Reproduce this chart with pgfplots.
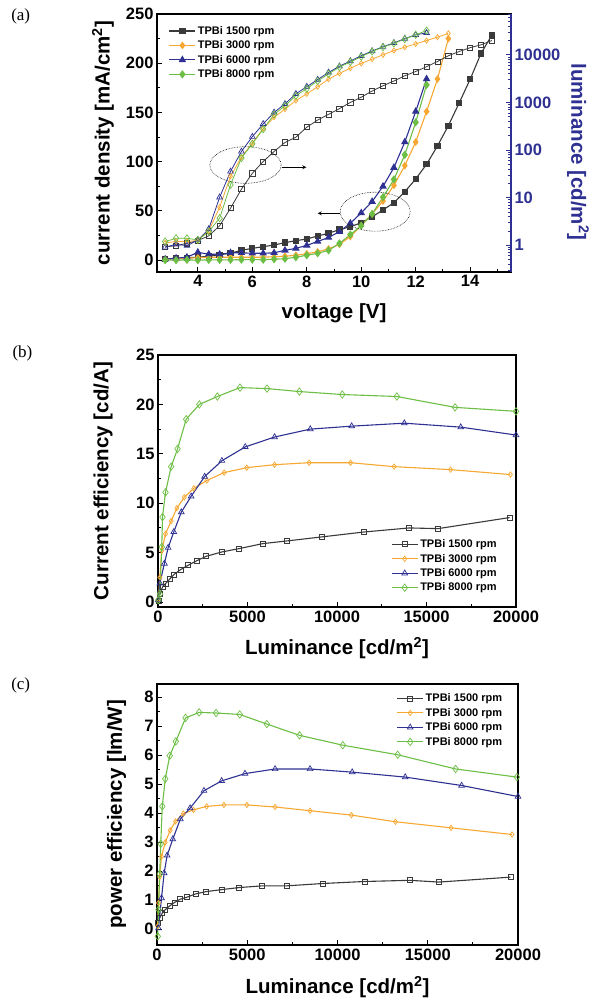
\documentclass[border=0pt]{standalone}
\usepackage{fontspec}
\setmainfont{Liberation Sans}
\newfontfamily\seriffont{Liberation Serif}
\usepackage{pgfplots}
\pgfplotsset{compat=1.18}
\definecolor{cblk}{HTML}{3A3A3A}
\definecolor{corg}{HTML}{F7A833}
\definecolor{cblu}{HTML}{2E3192}
\definecolor{cgrn}{HTML}{6DBE45}
\newcommand{\labfont}{\fontsize{20.5}{20.5}\selectfont\bfseries}
\pgfplotsset{
  common/.style={scale only axis, anchor=south west,
    axis line style={line width=1.3pt},
    tick style={line width=0.9pt, black},
    major tick length=5pt, minor tick length=3pt, tick align=inside,
    ticklabel style={font=\fontsize{16.5}{16.5}\selectfont\bfseries},
    /pgf/number format/assume math mode=true,
    /pgf/number format/1000 sep={},
    scaled ticks=false,
    legend style={draw=none, fill=none, font=\fontsize{11}{11}\selectfont\bfseries,
      row sep=1pt, inner sep=1pt},
    legend cell align=left,
    legend image code/.code={\draw[mark repeat=2,mark phase=2] plot coordinates {(0pt,0pt)(13pt,0pt)(26pt,0pt)};},
    every axis plot/.append style={line width=1.1pt},
    xtick pos=bottom, ytick pos=left,
  },
  xlab/.style={every axis x label/.style={at={(axis description cs:0.5,0)}, yshift=-#1, anchor=center, font=\labfont}},
  ylab/.style={every axis y label/.style={at={(axis description cs:0,0.5)}, xshift=-#1, rotate=90, anchor=center, font=\labfont}},
}
\begin{document}
\begin{tikzpicture}
\path[use as bounding box] (0,0) rectangle (589pt,1002pt);
% ---------------- (a) ----------------
\begin{axis}[common, at={(157pt,730pt)}, width=354pt, height=258pt,
  xmin=2.5, xmax=15.5, ymin=-12, ymax=250,
  xtick={4,6,...,14}, minor xtick={3,5,...,15},
  ytick={0,50,...,250}, minor ytick={25,75,...,225},
  xlab=41pt, ylab=54pt,
  xlabel={voltage [V]}, ylabel={current density [mA/cm\textsuperscript{2}]},
  legend style={at={(0.03,0.965)}, anchor=north west}]
\addplot[cblk, mark=square*, mark size=2.6pt] coordinates {(2.8,1)(3.2,2)(3.6,2.5)(4.0,3)(4.4,4)(4.8,5.5)(5.2,7)(5.6,10)(6.0,12)(6.4,13.7)(6.8,15.4)(7.2,17.8)(7.6,19.8)(8.0,21.5)(8.4,24.6)(8.8,27.3)(9.2,31)(9.6,34)(10.0,38)(10.4,44)(10.8,51)(11.2,58.4)(11.6,69.5)(12.0,82.4)(12.4,97.4)(12.8,116)(13.2,136.6)(13.6,159.9)(14.0,183.7)(14.4,210)(14.8,228.7)};
\addlegendentry{TPBi 1500 rpm}
\addplot[corg, mark=diamond*, mark size=3pt] coordinates {(2.8,1)(3.2,1.5)(3.6,2)(4.0,2.5)(4.4,3)(4.8,3)(5.2,3)(5.6,3)(6.0,3)(6.4,3)(6.8,3.5)(7.2,4)(7.6,5)(8.0,6.5)(8.4,8.5)(8.8,11.5)(9.2,16)(9.6,24)(10.0,35)(10.4,47)(10.8,60)(11.2,76)(11.6,96)(12.0,120)(12.4,151)(12.8,184)(13.2,225)};
\addlegendentry{TPBi 3000 rpm}
\addplot[cblu, mark=triangle*, mark size=3.3pt] coordinates {(2.8,1)(3.2,2)(3.6,3)(4.0,8)(4.4,6)(4.8,6)(5.2,7.5)(5.6,7.5)(6.0,7)(6.4,7)(6.8,7.5)(7.2,10)(7.6,12)(8.0,15)(8.4,19)(8.8,23)(9.2,29)(9.6,37.5)(10.0,48)(10.4,59.5)(10.8,75)(11.2,94)(11.6,120)(12.0,151)(12.4,184)};
\addlegendentry{TPBi 6000 rpm}
\addplot[cgrn, mark=diamond*, mark size=3.3pt] coordinates {(2.8,0)(3.2,0)(3.6,0.3)(4.0,0)(4.4,0.3)(4.8,0.3)(5.2,0.3)(5.6,0.5)(6.0,0.5)(6.4,0.5)(6.8,1)(7.2,1.5)(7.6,3)(8.0,5)(8.4,7)(8.8,10)(9.2,17)(9.6,26)(10.0,35)(10.4,47)(10.8,64)(11.2,82)(11.6,107)(12.0,140)(12.4,178)};
\addlegendentry{TPBi 8000 rpm}
\end{axis}
\begin{axis}[common, at={(157pt,730pt)}, width=354pt, height=258pt,
  xmin=2.5, xmax=15.5, ymode=log, ymin=0.275, ymax=72000,
  axis x line=none, axis y line*=right, ytick pos=right,
  y axis line style={cblu, line width=1.3pt}, y tick style={cblu, line width=0.9pt},
  ytick={1,10,100,1000,10000}, yticklabels={1,10,100,1000,10000},
  minor ytick={0.3,0.4,0.5,0.6,0.7,0.8,0.9,2,3,4,5,6,7,8,9,20,30,40,50,60,70,80,90,200,300,400,500,600,700,800,900,2000,3000,4000,5000,6000,7000,8000,9000,20000,30000,40000,50000,60000,70000},
  yticklabel style={cblu},
  every axis y label/.style={at={(axis description cs:1,0.5)}, xshift=67pt, yshift=-9pt, rotate=-90, anchor=center, font=\labfont, text=cblu},
  ylabel={luminance [cd/m\textsuperscript{2}]}]
\addplot[cblk, line width=0.8pt, mark=square, mark size=2.6pt, mark options={fill=white, line width=0.7pt}] coordinates {(2.8,0.93)(3.2,0.98)(3.6,1.10)(4.0,1.26)(4.4,1.58)(4.8,2.57)(5.2,6.0)(5.6,15.1)(6.0,32.4)(6.4,57.5)(6.8,93.3)(7.2,144.5)(7.6,186)(8.0,302)(8.4,427)(8.8,562)(9.2,741)(9.6,1000)(10.0,1288)(10.4,1738)(10.8,2239)(11.2,2818)(11.6,3631)(12.0,4467)(12.4,5623)(12.8,7244)(13.2,9550)(13.6,11750)(14.0,14125)(14.4,16218)(14.8,19953)};
\addplot[corg, line width=0.8pt, mark=diamond, mark size=2.6pt, mark options={fill=white, line width=0.7pt}] coordinates {(2.8,1.12)(3.2,1.20)(3.6,1.20)(4.0,1.26)(4.4,2.0)(4.8,6.3)(5.2,28.2)(5.6,70.8)(6.0,141)(6.4,282)(6.8,490)(7.2,724)(7.6,1096)(8.0,1514)(8.4,2138)(8.8,3090)(9.2,4074)(9.6,5248)(10.0,6607)(10.4,8128)(10.8,10000)(11.2,12300)(11.6,14450)(12.0,16980)(12.4,19950)(12.8,23440)(13.2,28180)};
\addplot[cblu, line width=0.8pt, mark=triangle, mark size=3.3pt, mark options={fill=white, line width=0.7pt}] coordinates {(2.8,0.91)(3.2,1.05)(3.6,0.98)(4.0,1.29)(4.4,2.19)(4.8,10.2)(5.2,35.5)(5.6,93.3)(6.0,190.5)(6.4,355)(6.8,617)(7.2,933)(7.6,1514)(8.0,2138)(8.4,3020)(8.8,4266)(9.2,5754)(9.6,7413)(10.0,9550)(10.4,12020)(10.8,14790)(11.2,17780)(11.6,21880)(12.0,26300)(12.4,28840)};
\addplot[cgrn, line width=0.8pt, mark=diamond, mark size=3.6pt, mark options={fill=white, line width=0.7pt}] coordinates {(2.8,1.2)(3.2,1.4)(3.6,1.4)(4.0,1.3)(4.4,1.95)(4.8,3.7)(5.2,18.6)(5.6,68)(6.0,135)(6.4,275)(6.8,560)(7.2,850)(7.6,1380)(8.0,1950)(8.4,2820)(8.8,3980)(9.2,5500)(9.6,7080)(10.0,9120)(10.4,11750)(10.8,14450)(11.2,17380)(11.6,21380)(12.0,26300)(12.4,32360)};
\end{axis}
\draw[densely dotted, line width=0.6pt] (245.5pt,837pt) ellipse [x radius=35.7pt, y radius=18.3pt];
\draw[-stealth, line width=0.8pt] (282pt,834.7pt) -- (306.4pt,834.7pt);
\draw[densely dotted, line width=0.6pt] (375.2pt,790.3pt) ellipse [x radius=35pt, y radius=19.5pt];
\draw[-stealth, line width=0.8pt] (340pt,788.7pt) -- (317.7pt,788.7pt);
\node[font=\seriffont\fontsize{17}{17}\selectfont] at (20.7pt,985.3pt) {(a)};
% ---------------- (b) ----------------
\begin{axis}[common, at={(158pt,395pt)}, width=358pt, height=252pt,
  xmin=0, xmax=20000, ymin=-0.5, ymax=25,
  xtick={0,5000,...,20000}, minor xtick={2500,7500,...,17500},
  ytick={0,5,...,25}, minor ytick={2.5,7.5,...,22.5},
  xlab=41pt, ylab=55pt,
  xlabel={Luminance [cd/m\textsuperscript{2}]}, ylabel={Current efficiency [cd/A]},
  legend style={at={(0.955,0.045)}, anchor=south east}]
\addplot[cblk, mark=square, mark size=2.5pt, mark options={fill=white, line width=0.7pt}] coordinates {(20,0.1)(105,0.8)(252,1.52)(420,1.86)(672,2.36)(903,2.80)(1261,3.28)(1681,3.72)(2143,4.16)(2689,4.63)(3571,5.07)(4538,5.41)(5840,5.91)(7185,6.18)(9139,6.59)(11513,7.09)(14034,7.50)(15651,7.43)(19643,8.55)};
\addlegendentry{TPBi 1500 rpm}
\addplot[corg, mark=diamond, mark size=2.7pt, mark options={fill=white, line width=0.7pt}] coordinates {(20,0.3)(105,2.5)(210,5.2)(420,6.9)(735,8.2)(1050,9.5)(1470,10.6)(1996,11.5)(2731,12.3)(3697,13.1)(4958,13.6)(6513,13.9)(8445,14.1)(10756,14.1)(13193,13.7)(16345,13.4)(19685,12.9)};
\addlegendentry{TPBi 3000 rpm}
\addplot[cblu, mark=triangle, mark size=3.3pt, mark options={fill=white, line width=0.7pt}] coordinates {(20,0.2)(105,1.9)(357,3.9)(567,5.5)(882,7.1)(1303,9.1)(1849,10.7)(2605,12.7)(3571,14.3)(4874,15.7)(6513,16.7)(8508,17.5)(10819,17.8)(13761,18.1)(16912,17.7)(20000,16.9)};
\addlegendentry{TPBi 6000 rpm}
\addplot[cgrn, mark=diamond, mark size=3.7pt, mark options={fill=white, line width=0.7pt}] coordinates {(20,0.2)(105,0.8)(210,5.57)(252,8.6)(420,11.1)(735,13.7)(1092,15.5)(1575,18.5)(2311,20.0)(3319,20.8)(4580,21.7)(6092,21.6)(7899,21.3)(10294,21.0)(13340,20.8)(16596,19.7)(20000,19.3)};
\addlegendentry{TPBi 8000 rpm}
\end{axis}
\node[font=\seriffont\fontsize{17}{17}\selectfont] at (22.5pt,649pt) {(b)};
% ---------------- (c) ----------------
\begin{axis}[common, at={(157pt,57pt)}, width=361pt, height=261pt,
  xmin=0, xmax=20000, ymin=-0.55, ymax=8.45,
  xtick={0,5000,...,20000}, minor xtick={2500,7500,...,17500},
  ytick={0,1,...,8}, minor ytick={0.5,1.5,...,7.5},
  xlab=42pt, ylab=40.5pt,
  xlabel={Luminance [cd/m\textsuperscript{2}]}, ylabel={power efficiency [lm/W]},
  legend style={at={(0.965,0.975)}, anchor=north east}]
\addplot[cblk, mark=square, mark size=2.5pt, mark options={fill=white, line width=0.7pt}] coordinates {(42,0.2)(146,0.38)(292,0.55)(458,0.67)(708,0.80)(979,0.92)(1292,1.03)(1667,1.10)(2125,1.21)(2708,1.29)(3583,1.36)(4542,1.43)(5833,1.49)(7188,1.49)(9167,1.57)(11500,1.64)(14000,1.68)(15625,1.62)(19583,1.79)};
\addlegendentry{TPBi 1500 rpm}
\addplot[corg, mark=diamond, mark size=2.7pt, mark options={fill=white, line width=0.7pt}] coordinates {(30,0.1)(83,0.9)(150,1.8)(250,2.5)(458,2.99)(729,3.40)(1021,3.71)(1458,3.98)(2021,4.11)(2750,4.23)(3708,4.28)(4979,4.28)(6542,4.21)(8479,4.08)(10771,3.93)(13208,3.70)(16292,3.49)(19667,3.26)};
\addlegendentry{TPBi 3000 rpm}
\addplot[cblu, mark=triangle, mark size=3.3pt, mark options={fill=white, line width=0.7pt}] coordinates {(83,0.03)(250,1.07)(396,1.93)(563,2.54)(875,3.10)(1292,3.79)(1833,4.17)(2604,4.77)(3583,5.11)(4875,5.36)(6542,5.52)(8479,5.52)(10813,5.41)(13750,5.24)(16875,4.95)(20000,4.57)};
\addlegendentry{TPBi 6000 rpm}
\addplot[cgrn, mark=diamond, mark size=3.7pt, mark options={fill=white, line width=0.7pt}] coordinates {(42,-0.25)(83,0.67)(150,1.9)(208,2.94)(292,4.23)(458,5.18)(708,5.98)(1042,6.47)(1583,7.28)(2333,7.47)(3271,7.45)(4583,7.40)(6083,7.07)(7896,6.68)(10292,6.34)(13333,6.01)(16542,5.52)(19938,5.24)};
\addlegendentry{TPBi 8000 rpm}
\end{axis}
\node[font=\seriffont\fontsize{17}{17}\selectfont] at (20.7pt,317pt) {(c)};
\end{tikzpicture}
\end{document}
